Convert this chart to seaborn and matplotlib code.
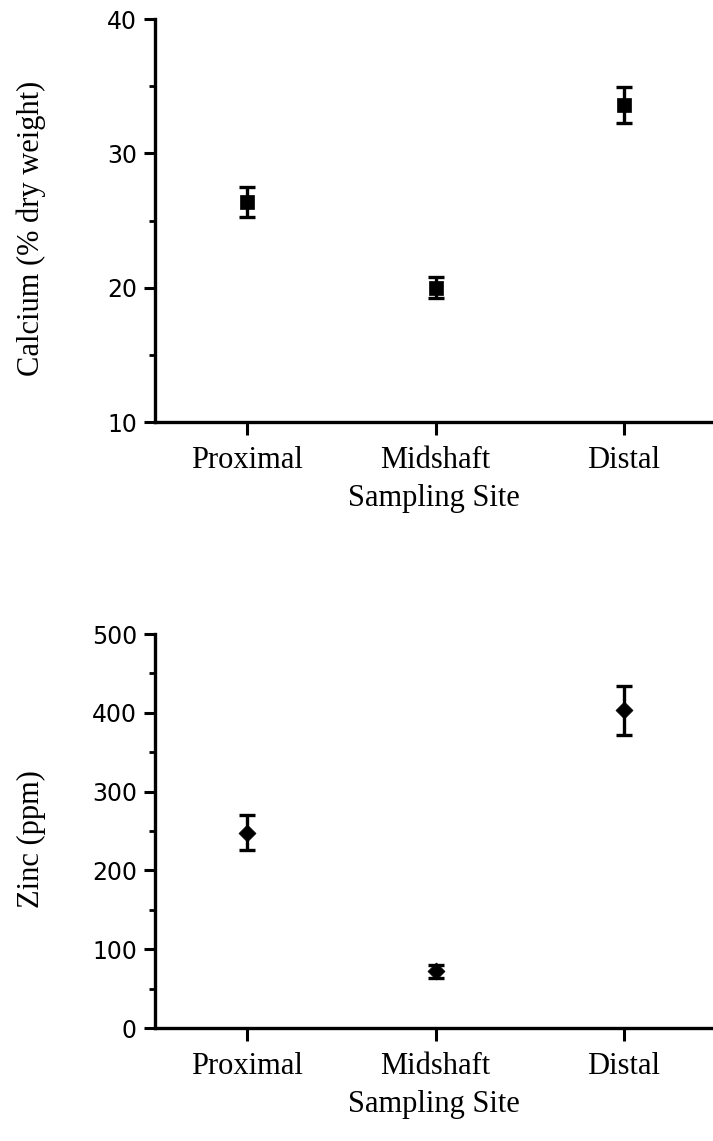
import matplotlib
matplotlib.use("Agg")
import matplotlib.pyplot as plt
from matplotlib.ticker import MultipleLocator
import seaborn as sns
import pandas as pd

# Sampling sites along the bone
sites = ["Proximal", "Midshaft", "Distal"]

# Calcium content (% dry weight): mean and standard error
calcium_mean = [26.4, 20.0, 33.6]
calcium_err = [1.1, 0.8, 1.35]

# Zinc content (ppm): mean and standard error
zinc_mean = [248, 72, 403]
zinc_err = [22, 8, 31]

sns.set_theme(style="ticks")
plt.rcParams["font.family"] = ["DejaVu Sans"]
plt.rcParams.update({
    "text.color": "black",
    "axes.labelcolor": "black",
    "xtick.color": "black",
    "ytick.color": "black",
    "axes.edgecolor": "black",
})

DPI = 100
fig = plt.figure(figsize=(7.13, 11.41), dpi=DPI)
ax_ca = fig.add_axes([0.2174, 0.6301, 0.7826, 0.3532])
ax_zn = fig.add_axes([0.2174, 0.0990, 0.7826, 0.3453])

serif = "Liberation Serif"


def panel(ax, means, errs, marker, msize, ylim, major, minor, ylabel):
    df = pd.DataFrame({"site": sites, "value": means})
    sns.scatterplot(data=df, x="site", y="value", marker=marker, s=msize,
                    color="black", edgecolor="black", linewidth=0.5,
                    ax=ax, zorder=3, legend=False)
    ax.errorbar(range(len(sites)), means, yerr=errs, fmt="none",
                ecolor="black", elinewidth=2.4, capsize=5.5, capthick=2.4,
                zorder=2)
    ax.set_xlim(-0.488, 2.472)
    ax.set_ylim(*ylim)
    ax.yaxis.set_major_locator(MultipleLocator(major))
    ax.yaxis.set_minor_locator(MultipleLocator(minor))
    ax.set_xticks(range(len(sites)))
    ax.set_xticklabels(sites, fontfamily=serif, fontsize=22)
    for lbl in ax.get_yticklabels():
        lbl.set_fontsize(17)
    ax.tick_params(axis="y", which="major", length=8, width=2.2,
                   direction="out", pad=5)
    ax.tick_params(axis="y", which="minor", length=4, width=2.0,
                   direction="out")
    ax.tick_params(axis="x", which="major", length=9, width=2.2,
                   direction="out", pad=8)
    for side in ("top", "right"):
        ax.spines[side].set_visible(False)
    for side in ("left", "bottom"):
        ax.spines[side].set_linewidth(2.4)
    ax.set_xlabel("Sampling Site", fontfamily=serif, fontsize=22, labelpad=7)
    ax.set_ylabel(ylabel, fontfamily=serif, fontsize=22)
    ax.yaxis.set_label_coords(-0.196, 0.48)
    ax.set_facecolor("white")


panel(ax_ca, calcium_mean, calcium_err, "s", 110, (10, 40), 10, 5,
      "Calcium (% dry weight)")
panel(ax_zn, zinc_mean, zinc_err, "D", 75, (0, 500), 100, 50,
      "Zinc (ppm)")

fig.savefig("out.png", dpi=DPI, facecolor="white")
